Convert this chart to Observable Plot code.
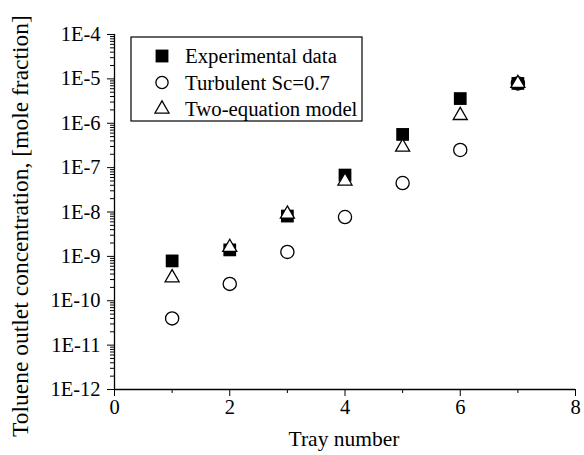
<!DOCTYPE html>
<html>
<head>
<meta charset="utf-8">
<script src="https://cdn.jsdelivr.net/npm/d3@7"></script>
<script src="https://cdn.jsdelivr.net/npm/@observablehq/plot@0.6"></script>
<style>
  html, body { margin: 0; padding: 0; background: #fff; }
  #chart { position: relative; width: 584px; height: 455px; }
</style>
</head>
<body>
<div id="chart"></div>
<script>
// ---- data ----
const trays = [1, 2, 3, 4, 5, 6, 7];
const experimental = [7.9e-10, 1.4e-9, 8.1e-9, 6.8e-8, 5.6e-7, 3.6e-6, 7.9e-6];
const turbulent = [4.0e-11, 2.4e-10, 1.26e-9, 7.7e-9, 4.5e-8, 2.5e-7, 7.9e-6];
const twoEquation = [3.3e-10, 1.6e-9, 9.0e-9, 5.0e-8, 2.9e-7, 1.5e-6, 7.9e-6];
const seriesNames = ["Experimental data", "Turbulent Sc=0.7", "Two-equation model"];
const xMajor = [0, 2, 4, 6, 8];
const xMinor = [1, 3, 5, 7];
const yExponents = [-12, -11, -10, -9, -8, -7, -6, -5, -4];

const yMajor = yExponents.map(e => Math.pow(10, e));
const yMinor = yExponents.slice(0, -1).flatMap(e => [2,3,4,5,6,7,8,9].map(k => k * Math.pow(10, e)));

const rows = (vals) => trays.map((t, i) => ({tray: t, value: vals[i]}));
const font = "'Liberation Serif', 'Times New Roman', serif";

const plot = Plot.plot({
  width: 584,
  height: 455,
  marginLeft: 114,
  marginRight: 9,
  marginTop: 34,
  marginBottom: 66,
  style: {fontFamily: font, fontSize: "20.5px", color: "#000", background: "#fff", overflow: "visible"},
  x: {domain: [0, 8]},
  y: {type: "log", domain: [1e-12, 1e-4]},
  marks: [
    Plot.axisX({ticks: xMajor, tickSize: 7, tickPadding: 3, tickFormat: d => String(d),
      label: null, fontSize: 20.5}),
    Plot.axisX({ticks: xMinor, tickSize: 4, tickFormat: () => "", label: null}),
    Plot.axisY({ticks: yMajor, tickSize: 7, tickPadding: 7,
      tickFormat: d => "1E" + Math.round(Math.log10(d)),
      label: null, fontSize: 20.5}),
    Plot.axisY({ticks: yMinor, tickSize: 4, tickFormat: () => "", label: null}),
    Plot.ruleX([0], {stroke: "#000", strokeWidth: 1.3}),
    Plot.ruleY([1e-12], {stroke: "#000", strokeWidth: 1.3}),
    Plot.dot(rows(turbulent), {x: "tray", y: "value", symbol: "circle", r: 6.6, stroke: "#000", strokeWidth: 1.3, fill: "none"}),
    Plot.dot(rows(experimental), {x: "tray", y: "value", symbol: "square", r: 7.2, fill: "#000", stroke: "none"}),
    Plot.dot(rows(twoEquation), {x: "tray", y: "value", symbol: "triangle", r: 5.2, stroke: "#000", strokeWidth: 1.3, fill: "#fff"})
  ]
});

document.getElementById("chart").appendChild(plot);

const svg = d3.select(plot);

// axis titles
svg.append("text")
  .attr("x", 344).attr("y", 438).attr("dy", "0.35em")
  .attr("text-anchor", "middle").attr("font-family", font).attr("font-size", 21.5).attr("fill", "#000")
  .text("Tray number");
svg.append("text")
  .attr("transform", "translate(20,226) rotate(-90)").attr("dy", "0.35em")
  .attr("text-anchor", "middle").attr("font-family", font).attr("font-size", 23.5).attr("fill", "#000")
  .text("Toluene outlet concentration, [mole fraction]");

// legend box inside the plot area
const lg = svg.append("g").attr("transform", "translate(131,37)");
lg.append("rect").attr("width", 231).attr("height", 84)
  .attr("fill", "#fff").attr("stroke", "#000").attr("stroke-width", 1.2);
const symbols = [d3.symbolSquare, d3.symbolCircle, d3.symbolTriangle];
const symSizes = [165, 118, 85];
const fills = ["#000", "none", "#fff"];
seriesNames.forEach((name, i) => {
  const g = lg.append("g").attr("transform", `translate(31,${19 + i * 26.5})`);
  g.append("path").attr("d", d3.symbol(symbols[i], symSizes[i])())
    .attr("fill", fills[i]).attr("stroke", i === 0 ? "none" : "#000").attr("stroke-width", 1.3);
  g.append("text").attr("x", 23).attr("y", 0).attr("dy", "0.35em")
    .attr("text-anchor", "start")
    .attr("font-family", font).attr("font-size", 20.8).attr("fill", "#000").text(name);
});
</script>
</body>
</html>
